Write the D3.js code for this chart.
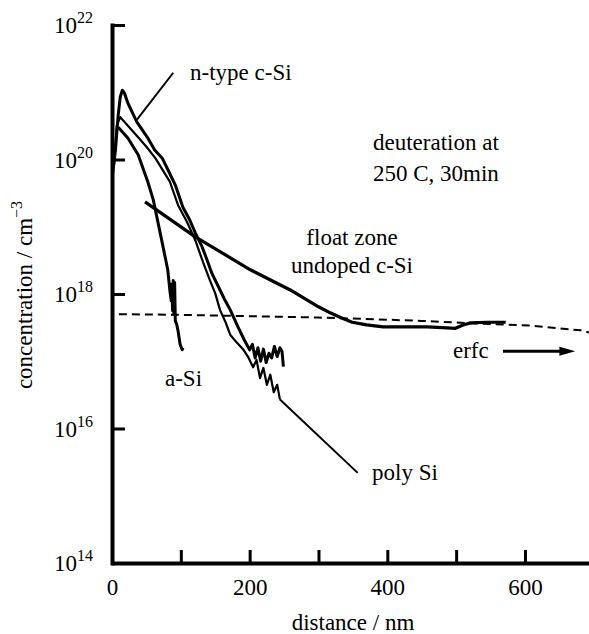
<!DOCTYPE html>
<html>
<head>
<meta charset="utf-8">
<script src="https://cdn.jsdelivr.net/npm/d3@7"></script>
<style>
  body { margin: 0; background: #fff; }
  text { font-family: "Liberation Serif", "Times New Roman", serif; fill: #000; }
</style>
</head>
<body>
<script>
// Chart size (matches the window)
const width = 589;
const height = 634;

// Axis ticks
const xTickValues = [0, 100, 200, 300, 400, 500, 600];
const xTickLabels = [0, 200, 400, 600];
const yTickExponents = [14, 16, 18, 20, 22];

// Depth profiles: distance (nm) and log10 of concentration (cm^-3)
const nTypeDepth = [1, 5, 9, 12, 15, 18, 23, 30, 36, 44, 52, 62, 73, 83, 92, 103, 113, 121, 131, 138, 145,
  155, 163, 172, 183, 192, 200, 204, 208, 212, 216, 220, 224, 228, 232, 236, 240, 244, 247, 249];
const nTypeLog = [19.8, 20.14, 20.66, 20.93, 21.03, 20.99, 20.84, 20.69, 20.56, 20.44, 20.32, 20.14, 20.02, 19.81, 19.62, 19.29, 19.10, 18.91, 18.70, 18.51, 18.31,
  18.10, 17.93, 17.76, 17.51, 17.32, 17.17, 17.25, 17.05, 17.2, 17.0, 17.18, 16.98, 17.12, 17.05, 17.22, 17.07, 17.2, 17.15, 16.92];

const polyDepth = [3, 7, 12, 25, 38, 50, 63, 84, 96, 109, 121, 132, 142, 150, 157, 165, 172, 182, 191, 198,
  205, 210, 215, 220, 225, 230, 235, 240, 244];
const polyLog = [19.92, 20.51, 20.63, 20.48, 20.33, 20.19, 20.02, 19.67, 19.32, 19.07, 18.80, 18.48, 18.21, 18.01, 17.76, 17.58, 17.39, 17.27, 17.17, 17.06,
  16.91, 17.02, 16.75, 16.90, 16.65, 16.80, 16.54, 16.65, 16.43];

const aSiDepth = [9, 23, 38, 52, 60, 73, 81, 84, 86, 87, 88, 89, 90, 91, 92, 94, 96, 99, 102, 103];
const aSiLog = [20.48, 20.32, 20.07, 19.67, 19.40, 18.76, 18.36, 18.06, 17.9, 18.15, 17.75, 18.2, 17.7, 18.17, 17.6, 17.55, 17.45, 17.25, 17.17, 17.2];

const floatDepth = [48, 121, 201, 259, 300, 317, 332, 349, 370, 394, 430, 458, 480, 499, 510, 521, 545, 572];
const floatLog = [19.37, 18.85, 18.36, 18.06, 17.81, 17.72, 17.65, 17.58, 17.54, 17.51, 17.51, 17.51, 17.50, 17.49, 17.54, 17.57, 17.58, 17.58];

const erfcDepth = [10, 100, 200, 300, 365, 450, 530, 608, 650, 681, 700];
const erfcLog = [17.70, 17.69, 17.67, 17.65, 17.63, 17.60, 17.56, 17.53, 17.49, 17.46, 17.41];

// Scales
const x = d3.scaleLinear().domain([0, 700]).range([112, 593.8]);
const y = d3.scaleLog().domain([1e14, 1e22]).range([563, 25]);

const svg = d3.select('body')
  .append('svg')
  .attr('width', width)
  .attr('height', height);

const line = d3.line()
  .x(d => x(d[0]))
  .y(d => y(Math.pow(10, d[1])));

// Curves
svg.append('path')
  .datum(d3.zip(erfcDepth, erfcLog))
  .attr('d', line)
  .attr('fill', 'none')
  .attr('stroke', '#000')
  .attr('stroke-width', 2)
  .attr('stroke-dasharray', '8,5');

svg.append('path')
  .datum(d3.zip(floatDepth, floatLog))
  .attr('d', line)
  .attr('fill', 'none')
  .attr('stroke', '#000')
  .attr('stroke-width', 3.2)
  .attr('stroke-linejoin', 'round');

svg.append('path')
  .datum(d3.zip(aSiDepth, aSiLog))
  .attr('d', line)
  .attr('fill', 'none')
  .attr('stroke', '#000')
  .attr('stroke-width', 3)
  .attr('stroke-linejoin', 'round');

svg.append('path')
  .datum(d3.zip(polyDepth, polyLog))
  .attr('d', line)
  .attr('fill', 'none')
  .attr('stroke', '#000')
  .attr('stroke-width', 2.2)
  .attr('stroke-linejoin', 'round');

svg.append('path')
  .datum(d3.zip(nTypeDepth, nTypeLog))
  .attr('d', line)
  .attr('fill', 'none')
  .attr('stroke', '#000')
  .attr('stroke-width', 3)
  .attr('stroke-linejoin', 'round');

// Leader lines (in data coordinates)
const leader = (a, b) => svg.append('line')
  .attr('x1', x(a[0])).attr('y1', y(Math.pow(10, a[1])))
  .attr('x2', x(b[0])).attr('y2', y(Math.pow(10, b[1])))
  .attr('stroke', '#000').attr('stroke-width', 2);
leader([36, 20.59], [89, 21.29]);
leader([244, 16.43], [357, 15.34]);

// Axes
const xAxis = d3.axisBottom(x)
  .tickValues(xTickValues)
  .tickSizeInner(-13)
  .tickSizeOuter(0)
  .tickPadding(16)
  .tickFormat(d => xTickLabels.includes(d) ? d : '');

const gx = svg.append('g')
  .attr('transform', 'translate(0,563)')
  .call(xAxis);
gx.select('.domain').attr('stroke-width', 4);
gx.selectAll('.tick line').attr('stroke-width', 3);
gx.selectAll('.tick text')
  .attr('font-family', '"Liberation Serif", serif')
  .attr('font-size', 23);

const yAxis = d3.axisLeft(y)
  .tickValues(yTickExponents.map(e => Math.pow(10, e)))
  .tickSizeInner(-13)
  .tickSizeOuter(0)
  .tickFormat('');

const gy = svg.append('g')
  .attr('transform', 'translate(112,0)')
  .call(yAxis);
gy.select('.domain').attr('stroke-width', 4).attr('stroke-linecap', 'square');
gy.selectAll('.tick line').attr('stroke-width', 3);

// Y tick labels with superscripts
const yl = svg.append('g').selectAll('text')
  .data(yTickExponents)
  .enter()
  .append('text')
  .attr('x', 93)
  .attr('y', d => y(Math.pow(10, d)) + 8)
  .attr('text-anchor', 'end')
  .attr('font-size', 23);
yl.append('tspan').text('10');
yl.append('tspan').attr('dy', -10).attr('font-size', 16).text(d => d);

// Axis titles
svg.append('text')
  .attr('x', 353)
  .attr('y', 630)
  .attr('text-anchor', 'middle')
  .attr('font-size', 23)
  .text('distance / nm');

const yt = svg.append('text')
  .attr('transform', 'translate(32,295) rotate(-90)')
  .attr('text-anchor', 'middle')
  .attr('font-size', 23);
yt.append('tspan').text('concentration / cm');
yt.append('tspan').attr('dy', -10).attr('font-size', 16).text('\u22123');

// Annotations
const note = (tx, ty, str, anchor) => svg.append('text')
  .attr('x', tx).attr('y', ty)
  .attr('text-anchor', anchor || 'start')
  .attr('font-size', 23)
  .text(str);

note(190, 80, 'n-type c-Si');
note(373, 150, 'deuteration at');
note(373, 181, '250 C, 30min');
note(352, 245, 'float zone', 'middle');
note(352, 273, 'undoped c-Si', 'middle');
note(165, 386, 'a-Si');
note(372, 480, 'poly Si');
note(453, 358, 'erfc');

// erfc arrow
const ay = y(Math.pow(10, 17.15));
svg.append('line')
  .attr('x1', x(568)).attr('y1', ay)
  .attr('x2', x(655)).attr('y2', ay)
  .attr('stroke', '#000').attr('stroke-width', 3);
svg.append('path')
  .attr('d', `M${x(673)},${ay} L${x(650)},${ay - 4.5} L${x(650)},${ay + 4.5} Z`)
  .attr('fill', '#000');
</script>
</body>
</html>
